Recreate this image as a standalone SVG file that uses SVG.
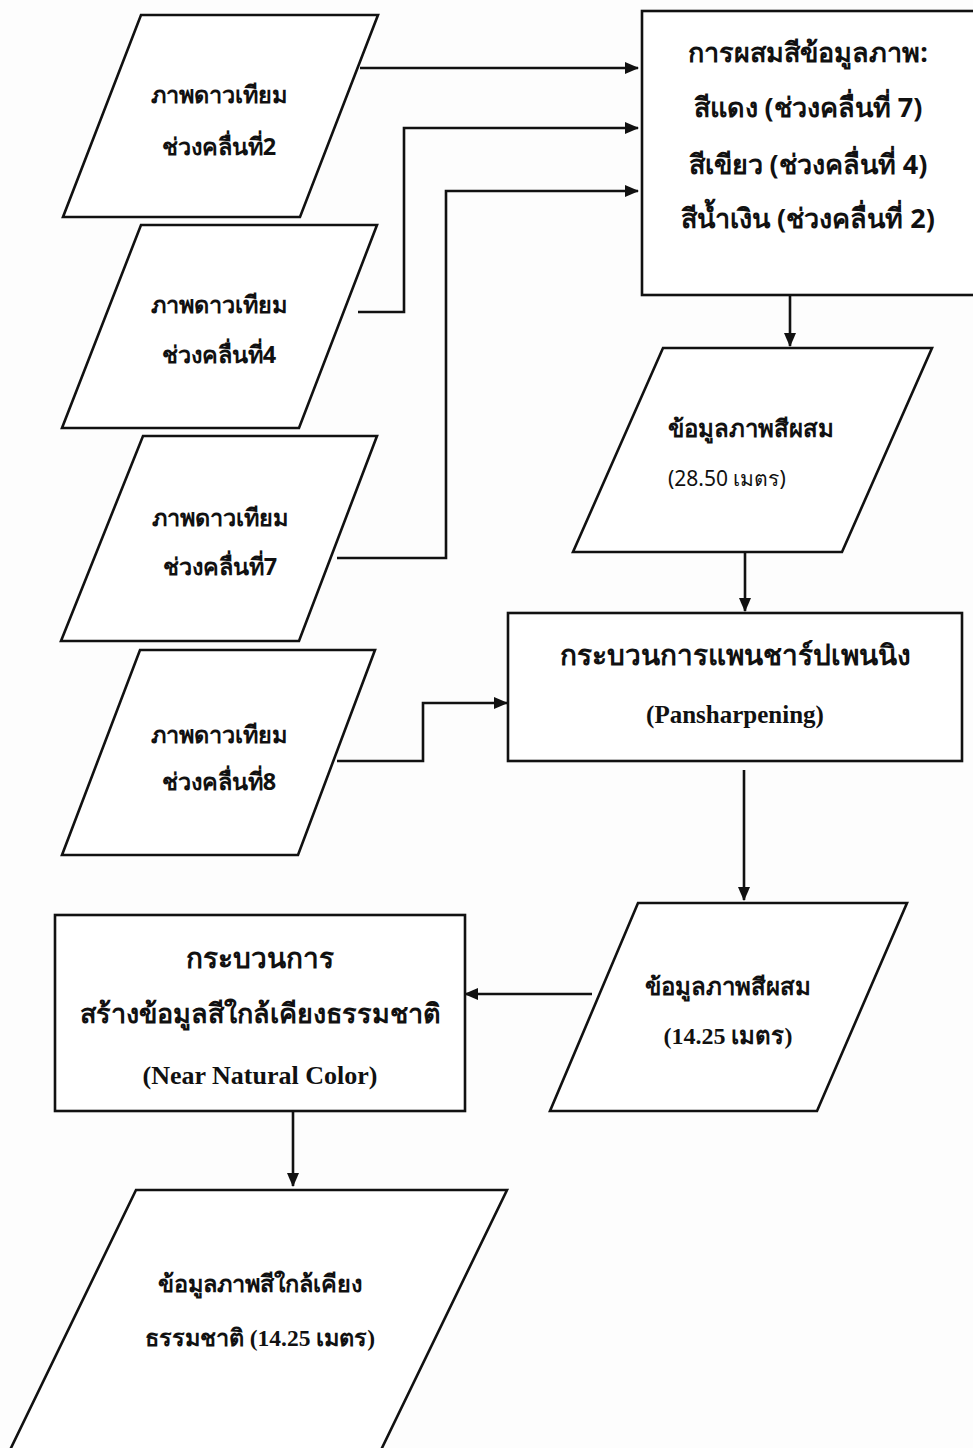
<svg xmlns="http://www.w3.org/2000/svg" width="973" height="1448" viewBox="0 0 973 1448">
<defs>
<marker id="ah" markerWidth="14" markerHeight="12" refX="13" refY="6" orient="auto" markerUnits="userSpaceOnUse">
<path d="M0,0 L14,6 L0,12 Z" fill="#111"/>
</marker>
<style>
.shape{fill:#fff;stroke:#111;stroke-width:2.6;stroke-linejoin:miter}
.conn{fill:none;stroke:#111;stroke-width:2.6}
.t{font-family:"Noto Sans","DejaVu Sans",sans-serif;font-weight:bold;fill:#111;text-anchor:middle}
.s{font-family:"Liberation Serif","Noto Sans",serif;font-weight:bold;fill:#111;text-anchor:middle}
.l{text-anchor:start}
</style>
</defs>
<rect width="973" height="1448" fill="#fdfdfd"/>
<g id="connectors">
<path class="conn" d="M360,68 L638,68" marker-end="url(#ah)"/>
<path class="conn" d="M358,312 L404,312 L404,128 L638,128" marker-end="url(#ah)"/>
<path class="conn" d="M337,558 L446,558 L446,191 L638,191" marker-end="url(#ah)"/>
<path class="conn" d="M337,761 L423,761 L423,703 L507,703" marker-end="url(#ah)"/>
<path class="conn" d="M790,296 L790,346" marker-end="url(#ah)"/>
<path class="conn" d="M745,552 L745,611" marker-end="url(#ah)"/>
<path class="conn" d="M744,770 L744,900" marker-end="url(#ah)"/>
<path class="conn" d="M592,994 L465,994" marker-end="url(#ah)"/>
<path class="conn" d="M293,1112 L293,1186" marker-end="url(#ah)"/>
</g>
<g id="in2">
<polygon class="shape" points="141,15 378,15 300,217 63,217"/>
<text class="t" x="219" y="103" font-size="23.5">ภาพดาวเทียม</text>
<text class="t" x="219" y="155" font-size="23.5">ช่วงคลื่นที่2</text>
</g>
<g id="in4">
<polygon class="shape" points="141,225 377,225 299,428 62,428"/>
<text class="t" x="219" y="313" font-size="23.5">ภาพดาวเทียม</text>
<text class="t" x="219" y="363" font-size="23.5">ช่วงคลื่นที่4</text>
</g>
<g id="in7">
<polygon class="shape" points="143,436 377,436 299,641 61,641"/>
<text class="t" x="220" y="526" font-size="23.5">ภาพดาวเทียม</text>
<text class="t" x="220" y="575" font-size="23.5">ช่วงคลื่นที่7</text>
</g>
<g id="in8">
<polygon class="shape" points="140,650 375,650 298,855 62,855"/>
<text class="t" x="219" y="743" font-size="23.5">ภาพดาวเทียม</text>
<text class="t" x="219" y="790" font-size="23.5">ช่วงคลื่นที่8</text>
</g>
<g id="composite">
<rect class="shape" x="642" y="11" width="340" height="284"/>
<text class="t" x="808" y="62" font-size="27">การผสมสีข้อมูลภาพ:</text>
<text class="t" x="808" y="117" font-size="27">สีแดง (ช่วงคลื่นที่ 7)</text>
<text class="t" x="808" y="174" font-size="27">สีเขียว (ช่วงคลื่นที่ 4)</text>
<text class="t" x="808" y="228" font-size="27">สีน้ำเงิน (ช่วงคลื่นที่ 2)</text>
</g>
<g id="rgb">
<polygon class="shape" points="663,348 932,348 842,552 573,552"/>
<text class="t l" x="668" y="437" font-size="24">ข้อมูลภาพสีผสม</text>
<text class="t l" x="668" y="486" font-size="21" style="font-weight:normal">(28.50 เมตร)</text>
</g>
<g id="pansharp">
<rect class="shape" x="508" y="613" width="454" height="148"/>
<text class="s" x="735" y="665" font-size="28">กระบวนการแพนชาร์ปเพนนิง</text>
<text class="s" x="735" y="723" font-size="25">(Pansharpening)</text>
</g>
<g id="rgb14">
<polygon class="shape" points="638,903 907,903 817,1111 550,1111"/>
<text class="t" x="728" y="995" font-size="24">ข้อมูลภาพสีผสม</text>
<text class="s" x="728" y="1044" font-size="24">(14.25 เมตร)</text>
</g>
<g id="nnc">
<rect class="shape" x="55" y="915" width="410" height="196"/>
<text class="s" x="260" y="968" font-size="28">กระบวนการ</text>
<text class="s" x="260" y="1023" font-size="27">สร้างข้อมูลสีใกล้เคียงธรรมชาติ</text>
<text class="s" x="260" y="1084" font-size="26">(Near Natural Color)</text>
</g>
<g id="output">
<polygon class="shape" points="136,1190 507,1190 381,1450 10,1450"/>
<text class="t" x="260" y="1292" font-size="23.5">ข้อมูลภาพสีใกล้เคียง</text>
<text class="s" x="260" y="1346" font-size="23.5">ธรรมชาติ (14.25 เมตร)</text>
</g>
</svg>
